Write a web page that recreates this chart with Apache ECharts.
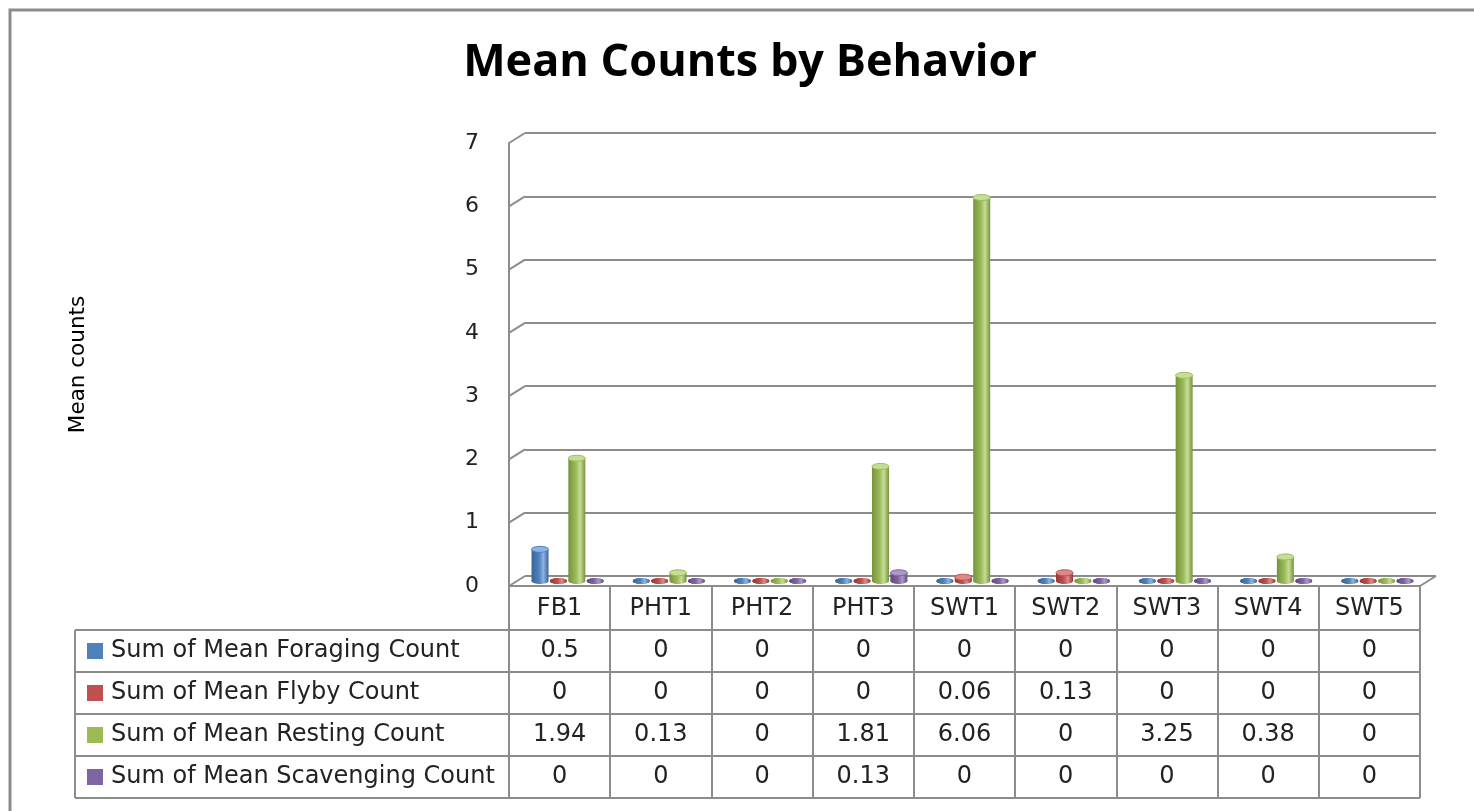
<!DOCTYPE html>
<html>
<head>
<meta charset="utf-8">
<script src="https://cdn.jsdelivr.net/npm/echarts@6/dist/echarts.min.js"></script>
<style>
html, body { margin: 0; padding: 0; background: #fff; }
#chart { width: 1474px; height: 811px; }
</style>
</head>
<body>
<div id="chart"></div>
<script>
// data
const categories = ['FB1', 'PHT1', 'PHT2', 'PHT3', 'SWT1', 'SWT2', 'SWT3', 'SWT4', 'SWT5'];
const seriesNames = ['Sum of Mean Foraging Count', 'Sum of Mean Flyby Count', 'Sum of Mean Resting Count', 'Sum of Mean Scavenging Count'];
const foraging = [0.5, 0, 0, 0, 0, 0, 0, 0, 0];
const flyby = [0, 0, 0, 0, 0.06, 0.13, 0, 0, 0];
const resting = [1.94, 0.13, 0, 1.81, 6.06, 0, 3.25, 0.38, 0];
const scavenging = [0, 0, 0, 0.13, 0, 0, 0, 0, 0];
const yTicks = [0, 1, 2, 3, 4, 5, 6, 7];

const allValues = [foraging, flyby, resting, scavenging];
// base, dark edge, light highlight
const palette = [
    ['#4F81BD', '#3a6496', '#8db3e2'],
    ['#C0504D', '#943634', '#dc8a88'],
    ['#9BBB59', '#76923c', '#c6dd96'],
    ['#8064A2', '#5f497a', '#ad97c9']
];

const FONT = 'DejaVu Sans';
const LINE = '#8c8c8c';
const DX = 16, DY = 10;          // 3D depth offset
const BAR_W = 17, STEP = 18.4;   // cylinder size
const PLOT_L = 509, PLOT_T = 143, PLOT_W = 911, PLOT_H = 443;
const TABLE_L = 75, ROW_H = 42, HEAD_TOP = 588;

const chart = echarts.init(document.getElementById('chart'));

// cylinder-ish 3D bars
function cylinder(si) {
    const c = palette[si];
    return function (params, api) {
        const ci = api.value(0);
        const v = api.value(1);
        const base = api.coord([ci, 0]);
        const top = api.coord([ci, v]);
        const cx = base[0] + (si - 1.5) * STEP + DX / 2;
        const yb = base[1] - DY / 2;
        const yt = top[1] - DY / 2;
        const rx = BAR_W / 2;
        const ry = 3;
        const grad = new echarts.graphic.LinearGradient(0, 0, 1, 0, [
            { offset: 0, color: c[1] },
            { offset: 0.45, color: c[0] },
            { offset: 0.7, color: c[2] },
            { offset: 1, color: c[1] }
        ]);
        return {
            type: 'group',
            children: [
                { type: 'ellipse', shape: { cx: cx, cy: yb, rx: rx, ry: ry }, style: { fill: grad } },
                { type: 'rect', shape: { x: cx - rx, y: yt, width: BAR_W, height: Math.max(0, yb - yt) }, style: { fill: grad } },
                { type: 'ellipse', shape: { cx: cx, cy: yt, rx: rx, ry: ry }, style: { fill: v > 0 ? c[2] : grad, stroke: v > 0 ? c[0] : null, lineWidth: 1 } }
            ]
        };
    };
}

// diagonal connectors from front axis to back wall
function connectors(params, api) {
    const y = api.coord([0, api.value(0)])[1];
    const x = params.coordSys.x;
    const lines = [{
        type: 'line',
        shape: { x1: x, y1: y, x2: x + DX, y2: y - DY },
        style: { stroke: LINE, lineWidth: 2 }
    }];
    if (api.value(0) === 0) {
        const xr = params.coordSys.x + params.coordSys.width;
        lines.push({
            type: 'line',
            shape: { x1: xr, y1: y, x2: xr + DX, y2: y - DY },
            style: { stroke: LINE, lineWidth: 2 }
        });
    }
    return { type: 'group', children: lines };
}

// table lines and legend keys
const graphics = [
    { type: 'rect', shape: { x: 10, y: 10, width: 1600, height: 900 }, style: { fill: null, stroke: LINE, lineWidth: 3 }, z: 0 },
    { type: 'text', x: 750, y: 63, style: { text: 'Mean Counts by Behavior', font: 'bold 45px "Open Sans"', fill: '#000', textAlign: 'center', textVerticalAlign: 'middle' } },
    { type: 'line', shape: { x1: TABLE_L, y1: HEAD_TOP + ROW_H, x2: TABLE_L, y2: HEAD_TOP + ROW_H * 5 }, style: { stroke: LINE, lineWidth: 2 } }
];
for (let r = 1; r <= 5; r++) {
    const y = HEAD_TOP + ROW_H * r;
    graphics.push({ type: 'line', shape: { x1: TABLE_L, y1: y, x2: PLOT_L + PLOT_W, y2: y }, style: { stroke: LINE, lineWidth: 2 } });
}
seriesNames.forEach(function (name, i) {
    const cy = HEAD_TOP + ROW_H * (i + 1) + ROW_H / 2;
    graphics.push({ type: 'rect', shape: { x: 87, y: cy - 8, width: 16, height: 16 }, style: { fill: palette[i][0] } });
    graphics.push({ type: 'text', x: 111, y: cy, style: { text: name, font: '24px "DejaVu Sans"', fill: '#222', textVerticalAlign: 'middle' } });
});

const option = {
    animation: false,
    textStyle: { fontFamily: FONT },
    grid: [
        { left: PLOT_L, top: PLOT_T, width: PLOT_W, height: PLOT_H },
        { left: PLOT_L + DX, top: PLOT_T - DY, width: PLOT_W, height: PLOT_H }
    ],
    xAxis: [{
        type: 'category',
        gridIndex: 0,
        data: categories,
        axisLine: { lineStyle: { color: LINE, width: 2 } },
        axisTick: { show: true, length: ROW_H * 5 + 2, interval: 0, lineStyle: { color: LINE, width: 2 } },
        axisLabel: {
            interval: 0,
            margin: 2,
            fontSize: 24,
            lineHeight: ROW_H,
            color: '#222',
            fontFamily: FONT,
            formatter: function (val, idx) {
                return [val].concat(allValues.map(function (s) { return s[idx]; })).join('\n');
            }
        }
    }, {
        type: 'category',
        gridIndex: 1,
        data: categories,
        show: false
    }],
    yAxis: [{
        type: 'value',
        gridIndex: 0,
        min: 0,
        max: 7,
        interval: 1,
        name: 'Mean counts',
        nameLocation: 'middle',
        nameRotate: 90,
        nameGap: 420,
        nameTextStyle: { fontSize: 21.5, color: '#000', fontFamily: FONT },
        axisLine: { show: true, lineStyle: { color: LINE, width: 2 } },
        axisTick: { show: false },
        axisLabel: { fontSize: 22, margin: 30, color: '#222', fontFamily: FONT },
        splitLine: { show: false }
    }, {
        type: 'value',
        gridIndex: 1,
        min: 0,
        max: 7,
        interval: 1,
        axisLine: { show: false },
        axisTick: { show: false },
        axisLabel: { show: false },
        splitLine: { show: true, lineStyle: { color: LINE, width: 2 } }
    }],
    series: [{
        type: 'custom',
        xAxisIndex: 0,
        yAxisIndex: 0,
        renderItem: connectors,
        data: yTicks.map(function (t) { return [t]; }),
        encode: { y: 0 },
        silent: true
    }].concat(allValues.map(function (vals, si) {
        return {
            type: 'custom',
            name: seriesNames[si],
            xAxisIndex: 0,
            yAxisIndex: 0,
            renderItem: cylinder(si),
            data: vals.map(function (v, i) { return [i, v]; }),
            encode: { x: 0, y: 1 },
            z: 5
        };
    })),
    graphic: graphics
};

chart.setOption(option);
</script>
</body>
</html>
